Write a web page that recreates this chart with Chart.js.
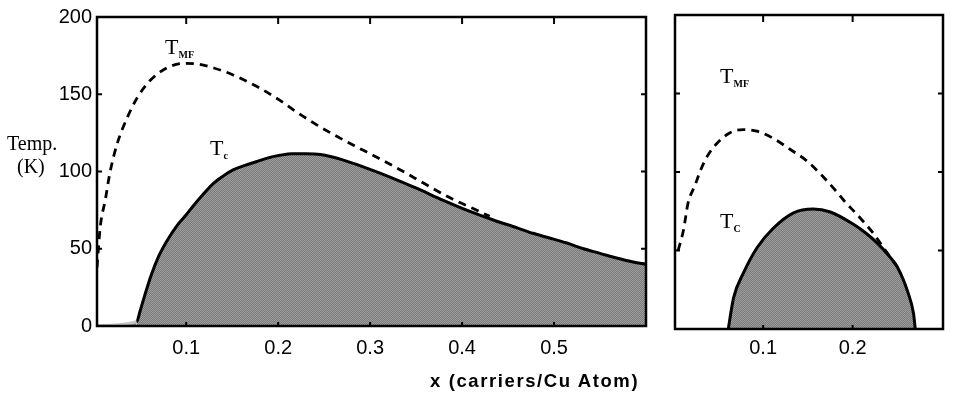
<!DOCTYPE html>
<html>
<head>
<meta charset="utf-8">
<script src="https://cdn.jsdelivr.net/npm/chart.js@4/dist/chart.umd.min.js"></script>
<style>
  body { margin: 0; background: #fff; width: 958px; height: 396px; position: relative; overflow: hidden; }
  canvas { position: absolute; top: 0; }
  .lbl { position: absolute; line-height: 1; color: #000; white-space: nowrap; }
  .serif { font-family: "Liberation Serif", "Times New Roman", serif; }
  .sub { font-size: 10px; font-weight: bold; position: relative; }
</style>
</head>
<body>
<canvas id="leftChart" width="660" height="396" style="left:0"></canvas>
<canvas id="rightChart" width="298" height="396" style="left:660px"></canvas>

<div class="lbl serif" style="left:7px;top:133px;font-size:20px">Temp.</div>
<div class="lbl serif" style="left:17px;top:156px;font-size:20px">(K)</div>
<div class="lbl serif" style="left:165px;top:36px;font-size:22px">T<span class="sub" style="top:4px">MF</span></div>
<div class="lbl serif" style="left:210px;top:137px;font-size:22px">T<span class="sub" style="top:4px">c</span></div>
<div class="lbl serif" style="left:720px;top:65px;font-size:22px">T<span class="sub" style="top:4px">MF</span></div>
<div class="lbl serif" style="left:720px;top:210px;font-size:22px">T<span class="sub" style="top:4px">C</span></div>
<div class="lbl" style="left:430px;top:372px;font-size:18.5px;font-weight:bold;font-family:'Liberation Sans',Arial,sans-serif;letter-spacing:1.6px">x (carriers/Cu Atom)</div>

<script>
// left panel
const leftTcX = [0.003, 0.046, 0.05, 0.055, 0.062, 0.07, 0.079, 0.09, 0.1, 0.108, 0.118, 0.13, 0.14, 0.151, 0.164, 0.177, 0.19, 0.202, 0.215, 0.23, 0.246, 0.271, 0.297, 0.325, 0.351, 0.379, 0.405, 0.434, 0.46, 0.477, 0.495, 0.514, 0.532, 0.55, 0.568, 0.586, 0.6];
const leftTcY = [0.3, 2.8, 10, 20, 33, 45, 55, 65, 72, 78, 85, 92.5, 97, 101, 104, 106.5, 109, 110.5, 111.5, 111.5, 111, 107.4, 102, 95.6, 89, 81.5, 75, 68.6, 63.5, 60, 57, 53.7, 50, 47, 44, 41.4, 40];
const leftTmfX = [0.003, 0.0065, 0.012, 0.017, 0.025, 0.036, 0.047, 0.061, 0.079, 0.097, 0.112, 0.13, 0.151, 0.18, 0.202, 0.22, 0.238, 0.26, 0.282, 0.304, 0.333, 0.358, 0.39, 0.412, 0.43];
const leftTmfY = [38, 64, 81.5, 99, 118, 135, 148, 159, 167, 170, 169.6, 167, 162.5, 154, 146, 138.5, 131.6, 124, 117, 110.2, 101, 92.5, 82, 76, 71];

// right panel
const rightTcX = [0.061, 0.067, 0.078, 0.093, 0.111, 0.134, 0.156, 0.175, 0.2, 0.215, 0.227, 0.24, 0.25, 0.262, 0.268, 0.27];
const rightTcY = [0, 20, 35.7, 51.6, 64, 74, 76.4, 74.5, 67, 61, 55, 47, 39.5, 23, 10, 0];
const rightTmfX = [0.005, 0.011, 0.016, 0.024, 0.03, 0.037, 0.048, 0.063, 0.078, 0.093, 0.111, 0.13, 0.149, 0.167, 0.182, 0.19, 0.208, 0.223, 0.238, 0.25];
const rightTmfY = [50, 63, 80, 91.7, 101, 109.5, 118, 125, 127, 126, 121.5, 114.5, 107, 97, 87.5, 82, 71, 61, 49, 39.5];

const leftXTicks = [0.1, 0.2, 0.3, 0.4, 0.5];
const rightXTicks = [0.1, 0.2];
const yTicks = [0, 50, 100, 150, 200];

const toPts = (xs, ys) => xs.map((x, i) => ({ x: x, y: ys[i] }));

// halftone-ish gray fill
function grayPattern() {
  const c = document.createElement("canvas");
  c.width = 2; c.height = 2;
  const g = c.getContext("2d");
  g.fillStyle = "#787878"; g.fillRect(0, 0, 2, 2);
  g.fillStyle = "#a0a0a0"; g.fillRect(0, 0, 1, 1); g.fillRect(1, 1, 1, 1);
  return g.createPattern(c, "repeat");
}

// frame and inward ticks on all four sides
const frameTicks = {
  id: "frameTicks",
  afterDatasetsDraw(chart, args, opts) {
    const { ctx, chartArea: a, scales: { x, y } } = chart;
    const line = (x1, y1, x2, y2) => { ctx.beginPath(); ctx.moveTo(x1, y1); ctx.lineTo(x2, y2); ctx.stroke(); };
    ctx.save();
    ctx.strokeStyle = "#000";
    ctx.lineWidth = 2;
    opts.xTicks.forEach(v => {
      const px = x.getPixelForValue(v);
      line(px, a.top, px, a.top + 7);
      line(px, a.bottom, px, a.bottom - 4);
    });
    opts.yTicks.forEach(v => {
      const py = y.getPixelForValue(v);
      line(a.left, py, a.left + 5, py);
      line(a.right, py, a.right - 5, py);
    });
    ctx.lineWidth = 2.5;
    ctx.strokeRect(a.left, a.top, a.right - a.left, a.bottom - a.top);
    ctx.restore();
  }
};

function makeChart(id, tc, tmf, xMin, xMax, xTicks, showY, pad, xHeight, tickPad) {
  const fill = grayPattern();
  return new Chart(document.getElementById(id), {
    type: "line",
    data: {
      datasets: [
        {
          data: tmf,
          borderColor: "#000",
          borderWidth: 2.8,
          borderDash: [8, 6],
          pointRadius: 0,
          fill: false,
          cubicInterpolationMode: "monotone"
        },
        {
          data: tc,
          borderColor: "#000",
          borderWidth: 3,
          backgroundColor: fill,
          pointRadius: 0,
          fill: "origin",
          cubicInterpolationMode: "monotone",
          segment: {
            borderColor: ctx => (id === "leftChart" && ctx.p0DataIndex === 0) ? "#c4c4c4" : undefined
          }
        }
      ]
    },
    options: {
      responsive: false,
      animation: false,
      layout: { padding: pad },
      plugins: {
        legend: { display: false },
        tooltip: { enabled: false },
        frameTicks: { xTicks: xTicks, yTicks: yTicks }
      },
      scales: {
        x: {
          type: "linear",
          min: xMin,
          max: xMax,
          grid: { display: false, drawTicks: false },
          border: { display: false },
          afterBuildTicks: s => { s.ticks = xTicks.map(v => ({ value: v })); },
          afterFit: s => { s.height = xHeight; },
          ticks: {
            padding: tickPad,
            color: "#000",
            maxRotation: 0,
            font: { family: "'Liberation Sans', Arial, sans-serif", size: 20 },
            callback: v => v.toFixed(1)
          }
        },
        y: {
          display: showY,
          min: 0,
          max: 200,
          grid: { display: false, drawTicks: false },
          border: { display: false },
          afterBuildTicks: s => { s.ticks = yTicks.map(v => ({ value: v })); },
          afterFit: s => { s.width = showY ? 97 : 0; },
          ticks: {
            padding: 5,
            color: "#000",
            font: { family: "'Liberation Sans', Arial, sans-serif", size: 20 }
          }
        }
      }
    },
    plugins: [frameTicks]
  });
}

makeChart("leftChart", toPts(leftTcX, leftTcY), toPts(leftTmfX, leftTmfY),
  0.003, 0.6, leftXTicks, true, { top: 17, right: 14, left: 0, bottom: 0 }, 70, 10);
makeChart("rightChart", toPts(rightTcX, rightTcY), toPts(rightTmfX, rightTmfY),
  0.0015, 0.301, rightXTicks, false, { top: 15, right: 15, left: 15, bottom: 0 }, 67, 7);
</script>
</body>
</html>
